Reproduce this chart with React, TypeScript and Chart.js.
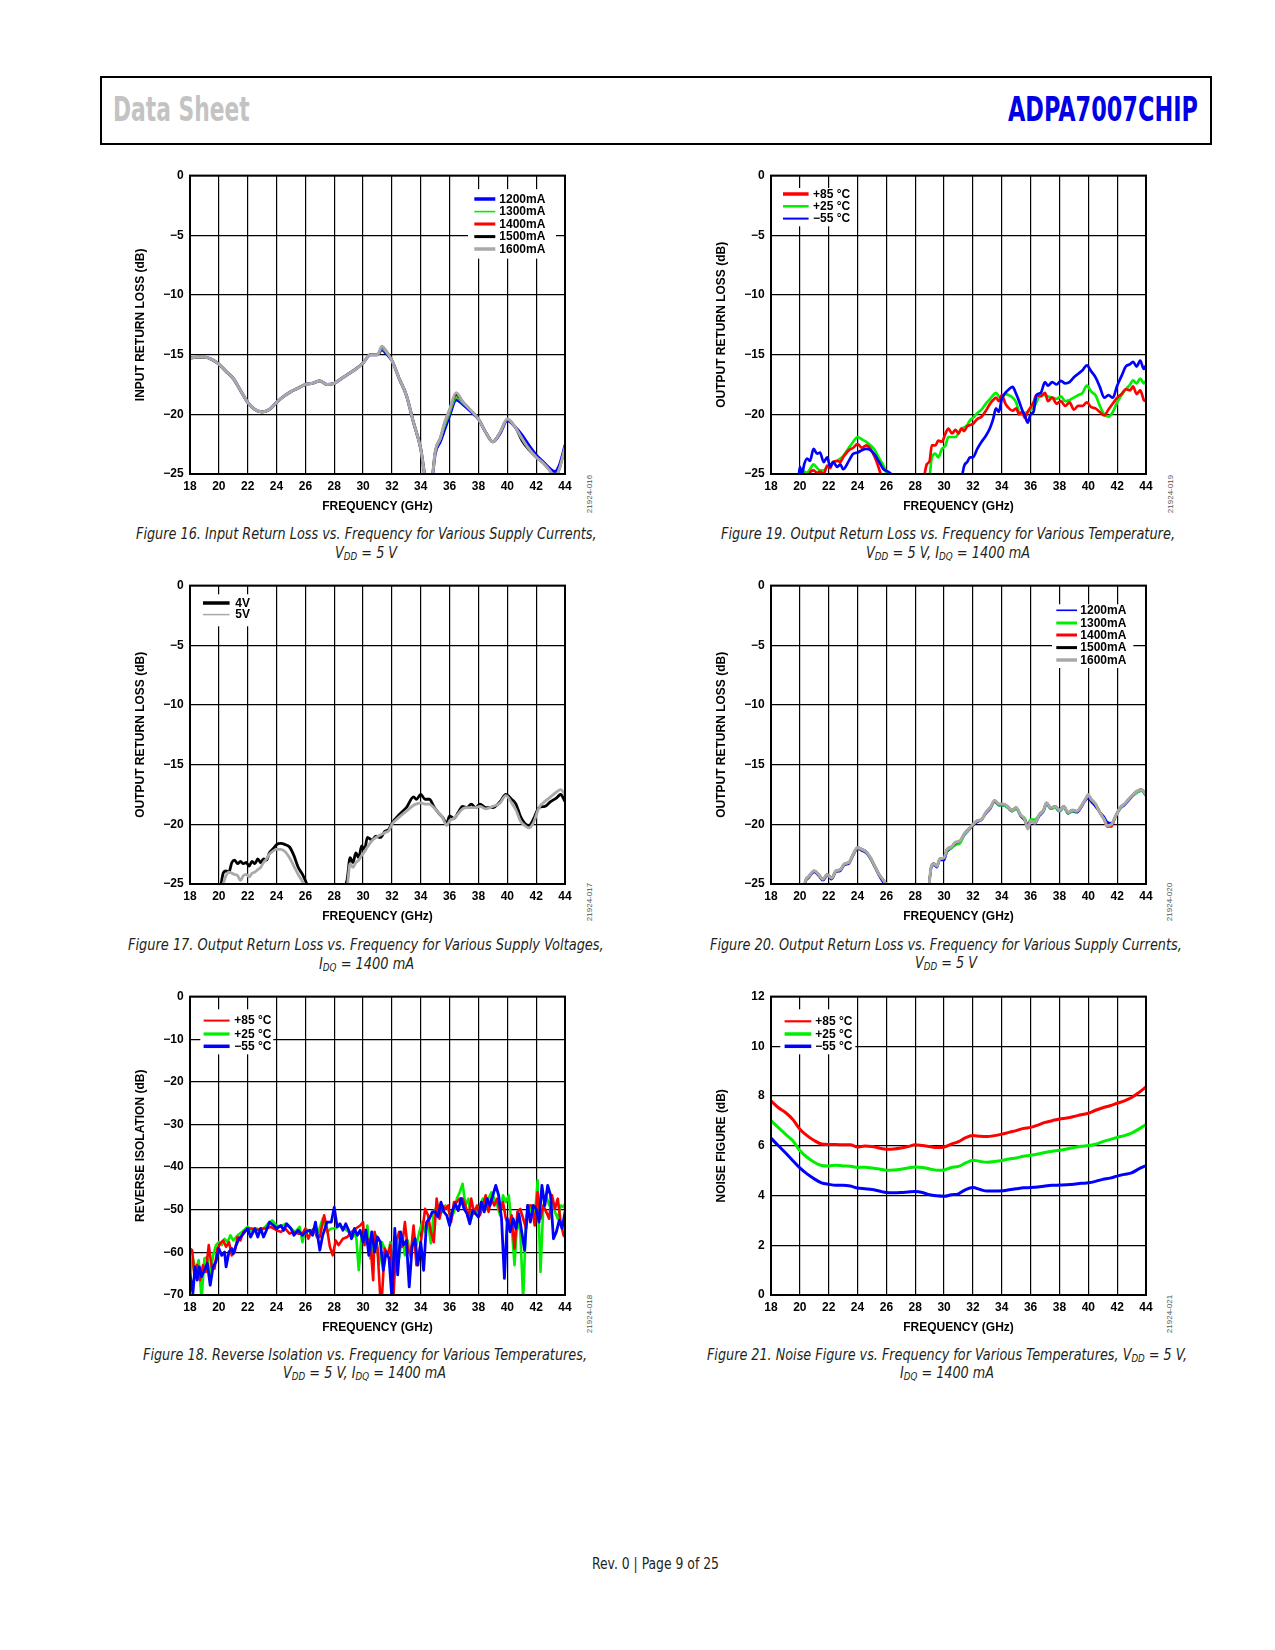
import React, { useEffect, useLayoutEffect, useRef } from "react";
import { Chart, registerables } from "chart.js";
Chart.register(...registerables);

const FONT = "'Liberation Sans', Arial, sans-serif";
const NARROW = "'Liberation Sans Narrow', 'DejaVu Sans Condensed', 'Liberation Sans', sans-serif";
Chart.defaults.font.family = FONT;
Chart.defaults.color = "#000";

// ---------------- DATA ----------------
const X_TICKS_MIN = 18;
const X_TICKS_MAX = 44;
const X_TITLE = "FREQUENCY (GHz)";

// Figure 16 – input return loss vs supply current
const F16_FREQ = [
  18, 18.5, 19, 19.5, 20, 20.5, 21, 21.5, 22, 22.5,
  23, 23.5, 24, 24.5, 25, 25.5, 26, 26.5, 27, 27.5,
  28, 28.5, 29, 29.5, 30, 30.5, 31, 31.3, 31.6, 32,
  32.5, 33, 33.5, 34, 34.3, 34.55, 34.8, 35, 35.35, 35.65,
  36, 36.45, 36.95, 37.5, 38, 38.5, 39, 39.5, 40, 40.5,
  41, 41.5, 42, 42.5, 43, 43.3, 43.6, 44,
];
const F16_1200 = [
  -15.3, -15.2, -15.2, -15.4, -15.8, -16.4, -17.0, -18.0, -19.0, -19.6,
  -19.8, -19.6, -19.0, -18.5, -18.1, -17.8, -17.5, -17.4, -17.2, -17.5,
  -17.4, -17.0, -16.6, -16.2, -15.7, -15.0, -15.0, -14.6, -14.9, -15.5,
  -17.0, -18.4, -20.7, -22.9, -25.3, -26.5, -25.3, -23.3, -22.3, -21.3,
  -20.1, -18.8, -19.2, -19.8, -20.4, -21.5, -22.3, -21.6, -20.5, -21.0,
  -21.7, -22.6, -23.4, -24.0, -24.6, -24.8, -24.3, -22.6,
];
const F16_1300 = [
  -15.3, -15.2, -15.2, -15.4, -15.8, -16.4, -17.0, -18.0, -19.0, -19.6,
  -19.8, -19.6, -19.0, -18.5, -18.1, -17.8, -17.5, -17.4, -17.2, -17.5,
  -17.4, -17.0, -16.6, -16.2, -15.7, -15.0, -15.0, -14.5, -14.8, -15.5,
  -17.0, -18.4, -20.7, -22.9, -25.3, -26.5, -25.3, -23.2, -22.1, -21.0,
  -19.9, -18.6, -19.1, -19.7, -20.4, -21.5, -22.3, -21.5, -20.4, -21.0,
  -22.0, -22.9, -23.6, -24.1, -24.8, -25.3, -24.6, -22.8,
];
const F16_1400 = [
  -15.3, -15.2, -15.2, -15.4, -15.8, -16.4, -17.0, -18.0, -19.0, -19.6,
  -19.8, -19.6, -19.0, -18.5, -18.1, -17.8, -17.5, -17.4, -17.2, -17.5,
  -17.4, -17.0, -16.6, -16.2, -15.7, -15.0, -15.0, -14.4, -14.7, -15.5,
  -17.0, -18.4, -20.7, -22.9, -25.3, -26.5, -25.3, -23.1, -22.0, -20.8,
  -19.7, -18.4, -19.0, -19.7, -20.4, -21.5, -22.3, -21.5, -20.4, -21.0,
  -22.0, -22.9, -23.6, -24.1, -24.8, -25.3, -24.6, -22.8,
];
const F16_1500 = [
  -15.3, -15.2, -15.2, -15.4, -15.8, -16.4, -17.0, -18.0, -19.0, -19.6,
  -19.8, -19.6, -19.0, -18.5, -18.1, -17.8, -17.5, -17.4, -17.2, -17.5,
  -17.4, -17.0, -16.6, -16.2, -15.7, -15.0, -15.0, -14.4, -14.7, -15.5,
  -17.0, -18.4, -20.7, -22.9, -25.3, -26.5, -25.3, -23.1, -22.0, -20.7,
  -19.6, -18.3, -19.0, -19.7, -20.4, -21.5, -22.3, -21.5, -20.4, -21.0,
  -22.2, -23.0, -23.6, -24.1, -24.8, -25.3, -24.6, -22.8,
];
const F16_1600 = [
  -15.3, -15.2, -15.2, -15.4, -15.8, -16.4, -17.0, -18.0, -19.0, -19.6,
  -19.8, -19.6, -19.0, -18.5, -18.1, -17.8, -17.5, -17.4, -17.2, -17.5,
  -17.4, -17.0, -16.6, -16.2, -15.7, -15.0, -15.0, -14.3, -14.7, -15.5,
  -17.0, -18.4, -20.7, -22.9, -25.3, -26.5, -25.3, -23.1, -22.0, -20.7,
  -19.6, -18.2, -19.0, -19.7, -20.4, -21.5, -22.3, -21.5, -20.4, -21.0,
  -22.0, -22.9, -23.6, -24.1, -24.8, -25.3, -24.6, -22.8,
];

// Figure 17 – output return loss vs supply voltage
const F17_FREQ = [
  20.1, 20.3, 20.5, 20.7, 20.9, 21.1, 21.3, 21.5, 21.7, 21.9,
  22.1, 22.3, 22.5, 22.7, 22.9, 23.1, 23.3, 23.5, 23.8, 24.0,
  24.3, 24.6, 24.9, 25.2, 25.5, 25.8, 26.1, 26.3, 27.0, 28.7,
  28.9, 29.1, 29.3, 29.5, 29.7, 29.9, 30.1, 30.3, 30.6, 30.9,
  31.2, 31.5, 31.8, 32.0, 32.5, 33.0, 33.5, 33.7, 34.0, 34.3,
  34.6, 34.9, 35.2, 35.5, 35.8, 36.0, 36.3, 36.6, 36.9, 37.2,
  37.5, 37.8, 38.1, 38.5, 39.0, 39.5, 39.9, 40.3, 40.6, 40.9,
  41.2, 41.5, 41.8, 42.2, 42.6, 43.0, 43.4, 43.7, 44.0,
];
const F17_4V = [
  -25.5, -24.1, -23.9, -24.0, -23.2, -23.0, -23.3, -23.1, -23.3, -23.2,
  -23.5, -23.1, -23.3, -22.9, -23.2, -22.9, -23.0, -22.4, -22.0, -21.7,
  -21.6, -21.7, -21.9, -22.6, -23.6, -24.2, -25.0, -25.6, null, -25.4,
  -24.6, -22.8, -23.2, -22.4, -22.8, -21.8, -22.1, -21.1, -21.3, -21.0,
  -21.1, -20.6, -20.4, -19.9, -19.2, -18.6, -17.7, -17.9, -17.5, -17.9,
  -17.9, -18.5, -19.0, -19.4, -19.9, -19.3, -19.5, -19.0, -18.5, -18.6,
  -18.3, -18.6, -18.3, -18.6, -18.6, -18.1, -17.5, -17.9, -18.3, -19.3,
  -19.9, -20.1, -19.6, -18.6, -18.5, -18.1, -17.8, -17.5, -18.1,
];
const F17_5V = [
  -26.0, -25.0, -24.3, -24.0, -24.1, -24.2, -24.3, -24.7, -24.3, -24.2,
  -24.4, -24.1, -24.0, -23.8, -23.6, -23.2, -22.9, -22.5, -22.2, -22.1,
  -22.1, -22.3, -22.8, -23.5, -24.2, -24.8, -25.5, -26.0, null, -26.0,
  -25.2, -23.3, -23.6, -23.2, -23.0, -22.6, -22.3, -21.9, -21.4, -21.1,
  -20.9, -20.7, -20.5, -20.0, -19.4, -18.9, -18.4, -18.3, -18.2, -18.3,
  -18.3, -18.6, -19.0, -19.4, -20.1, -19.7, -19.5, -19.1, -18.7, -18.6,
  -18.6, -18.6, -18.5, -18.7, -18.5, -18.2, -17.6, -18.2, -18.8, -19.7,
  -20.1, -20.3, -19.9, -18.6, -18.1, -17.7, -17.3, -17.1, -17.5,
];

// Figure 18 – reverse isolation vs temperature
const F18_P85_FREQ = [
  18.0, 18.15, 18.3, 18.5, 18.7, 18.9, 19.1, 19.3, 19.5, 19.7,
  19.9, 20.1, 20.3, 20.5, 20.7, 20.9, 21.1, 21.3, 21.5, 21.7,
  22.0, 22.3, 22.6, 23.0, 23.3, 23.6, 24.0, 24.3, 24.6, 24.9,
  25.2, 25.5, 25.8, 26.0, 26.2, 26.4, 26.6, 26.8, 27.0, 27.3,
  27.5, 27.7, 27.9, 28.1, 28.3, 28.6, 28.9, 29.2, 29.5, 29.8,
  30.0, 30.1, 30.3, 30.5, 30.7, 30.8, 31.0, 31.2, 31.3, 31.5,
  31.7, 31.9, 32.1, 32.3, 32.5, 32.7, 32.9, 33.1, 33.3, 33.5,
  33.7, 33.9, 34.1, 34.3, 34.5, 34.7, 34.9, 35.1, 35.3, 35.5,
  35.7, 35.9, 36.1, 36.3, 36.5, 36.7, 36.9, 37.1, 37.3, 37.5,
  37.7, 37.9, 38.1, 38.3, 38.5, 38.7, 38.9, 39.1, 39.3, 39.5,
  39.7, 39.9, 40.1, 40.3, 40.5, 40.7, 40.9, 41.1, 41.3, 41.5,
  41.7, 41.9, 42.1, 42.3, 42.5, 42.7, 42.9, 43.1, 43.3, 43.5,
  43.7, 43.9, 44.0,
];
const F18_P85 = [
  -59.1, -59.5, -65.3, -63.0, -66.5, -63.0, -64.6, -58.3, -63.4, -63.8,
  -59.1, -57.9, -57.2, -58.7, -57.6, -60.7, -59.9, -56.4, -57.2, -55.2,
  -54.4, -54.4, -54.8, -54.4, -54.4, -54.0, -54.8, -55.2, -54.4, -55.6,
  -55.2, -55.6, -55.6, -54.4, -56.8, -55.2, -54.4, -56.4, -56.4, -51.3,
  -54.4, -58.7, -60.7, -57.2, -58.3, -56.8, -56.4, -55.2, -54.4, -53.7,
  -52.9, -58.3, -56.8, -57.6, -66.5, -55.2, -59.1, -71.0, -71.0, -59.1,
  -60.7, -58.3, -71.0, -57.6, -55.2, -58.7, -52.9, -59.1, -60.7, -53.7,
  -63.0, -59.9, -55.2, -49.8, -51.3, -55.2, -57.6, -47.4, -52.1, -49.0,
  -49.8, -49.0, -52.9, -48.2, -48.2, -47.4, -47.4, -49.0, -52.1, -47.4,
  -50.9, -49.0, -51.3, -49.0, -46.6, -50.5, -47.4, -49.0, -47.4, -50.5,
  -48.2, -52.1, -53.7, -51.3, -59.1, -50.5, -49.8, -52.1, -54.4, -49.0,
  -49.0, -53.7, -45.9, -52.1, -49.0, -50.5, -52.1, -46.6, -49.8, -47.4,
  -52.9, -56.0, -56.4,
];
const F18_P25_FREQ = [
  18.0, 18.2, 18.4, 18.6, 18.8, 19.0, 19.2, 19.4, 19.6, 19.8,
  20.0, 20.2, 20.4, 20.6, 20.8, 21.0, 21.3, 21.6, 22.0, 22.3,
  22.6, 23.0, 23.4, 23.7, 24.0, 24.3, 24.6, 25.0, 25.3, 25.6,
  25.8, 26.0, 26.3, 26.6, 26.9, 27.2, 27.5, 27.8, 28.1, 28.4,
  28.7, 29.0, 29.3, 29.5, 29.7, 29.9, 30.1, 30.3, 30.5, 30.7,
  30.9, 31.1, 31.3, 31.5, 31.7, 31.9, 32.1, 32.3, 32.5, 32.7,
  32.9, 33.1, 33.3, 33.5, 33.7, 33.9, 34.1, 34.3, 34.5, 34.7,
  34.9, 35.1, 35.3, 35.5, 35.7, 35.9, 36.1, 36.3, 36.5, 36.7,
  36.9, 37.1, 37.3, 37.5, 37.7, 37.9, 38.1, 38.3, 38.5, 38.7,
  38.9, 39.1, 39.3, 39.5, 39.7, 39.9, 40.1, 40.3, 40.5, 40.7,
  40.9, 41.1, 41.3, 41.5, 41.7, 41.9, 42.1, 42.3, 42.5, 42.7,
  42.9, 43.1, 43.3, 43.5, 43.7, 43.9, 44.0,
];
const F18_P25 = [
  -65.7, -61.4, -64.2, -61.8, -71.0, -61.4, -61.1, -66.1, -60.7, -58.3,
  -57.6, -58.3, -56.8, -57.6, -56.0, -57.2, -56.0, -55.2, -54.0, -55.2,
  -54.4, -54.8, -53.3, -52.5, -53.7, -54.0, -53.3, -54.4, -55.2, -54.0,
  -57.6, -54.4, -55.2, -54.4, -55.2, -52.1, -55.2, -54.4, -54.4, -53.7,
  -54.4, -55.2, -56.4, -55.2, -64.2, -56.0, -57.6, -53.7, -61.4, -57.6,
  -56.0, -63.0, -57.6, -59.1, -60.7, -57.6, -66.1, -56.4, -61.4, -56.0,
  -60.7, -57.2, -61.4, -55.2, -58.3, -55.2, -52.9, -55.2, -52.9, -57.9,
  -50.5, -49.4, -49.0, -50.5, -49.0, -49.8, -52.1, -50.5, -47.4, -45.9,
  -43.9, -49.0, -47.4, -52.1, -49.8, -50.5, -49.0, -47.4, -49.8, -47.4,
  -45.9, -47.4, -49.0, -51.3, -46.6, -48.2, -46.6, -53.7, -63.0, -52.1,
  -55.2, -71.0, -52.1, -49.0, -50.5, -52.1, -43.1, -64.6, -49.0, -46.6,
  -49.0, -47.4, -50.5, -52.1, -49.0, -49.4, -48.6,
];
const F18_M55_FREQ = [
  18.0, 18.2, 18.35, 18.5, 18.65, 18.8, 19.0, 19.2, 19.4, 19.6,
  19.8, 20.0, 20.2, 20.4, 20.5, 20.7, 20.9, 21.0, 21.2, 21.4,
  21.6, 21.8, 22.0, 22.2, 22.5, 22.7, 22.9, 23.1, 23.3, 23.5,
  23.8, 24.0, 24.3, 24.5, 24.7, 25.0, 25.2, 25.5, 25.8, 26.0,
  26.3, 26.5, 26.7, 27.0, 27.2, 27.5, 27.8, 28.0, 28.2, 28.4,
  28.6, 28.8, 29.0, 29.2, 29.4, 29.6, 29.8, 30.0, 30.2, 30.4,
  30.6, 30.8, 31.0, 31.2, 31.4, 31.6, 31.8, 32.0, 32.2, 32.4,
  32.6, 32.8, 33.0, 33.2, 33.4, 33.6, 33.8, 34.0, 34.2, 34.4,
  34.6, 34.8, 35.0, 35.2, 35.4, 35.6, 35.8, 36.0, 36.2, 36.4,
  36.6, 36.8, 37.0, 37.2, 37.4, 37.6, 37.8, 38.0, 38.2, 38.4,
  38.6, 38.8, 39.0, 39.2, 39.4, 39.6, 39.8, 40.0, 40.2, 40.4,
  40.6, 40.8, 41.0, 41.2, 41.4, 41.6, 41.8, 42.0, 42.2, 42.4,
  42.6, 42.8, 43.0, 43.2, 43.4, 43.6, 43.8, 44.0,
];
const F18_M55 = [
  -65.0, -69.6, -63.4, -66.5, -63.4, -65.7, -64.2, -62.6, -67.7, -63.4,
  -62.2, -59.1, -60.7, -59.9, -63.4, -59.9, -59.1, -60.3, -58.3, -56.8,
  -56.0, -55.2, -54.4, -56.4, -54.4, -56.4, -54.4, -56.4, -54.8, -52.9,
  -53.7, -54.4, -53.7, -54.8, -53.3, -54.4, -56.0, -54.8, -56.0, -55.2,
  -54.8, -56.0, -52.9, -59.5, -56.0, -52.9, -52.9, -49.4, -54.0, -53.3,
  -54.8, -53.3, -54.8, -56.8, -54.4, -56.0, -54.8, -57.6, -54.8, -60.7,
  -55.2, -59.9, -56.4, -57.6, -64.2, -59.9, -61.4, -71.0, -54.4, -65.3,
  -55.2, -58.3, -57.2, -68.1, -58.7, -56.8, -63.0, -57.6, -64.2, -52.9,
  -52.1, -50.5, -50.5, -51.7, -48.2, -50.5, -51.3, -53.7, -50.2, -48.6,
  -50.2, -47.4, -49.8, -50.9, -53.3, -50.2, -50.9, -51.7, -48.2, -50.5,
  -47.4, -49.0, -46.6, -44.3, -46.6, -52.1, -66.1, -52.1, -55.2, -52.1,
  -54.4, -50.9, -55.2, -59.5, -49.0, -52.9, -49.0, -49.8, -52.9, -44.3,
  -49.0, -44.3, -46.6, -56.8, -55.2, -52.5, -54.4, -50.5,
];

// Figure 19 – output return loss vs temperature
const F19_FREQ = [
  19.9, 20.0, 20.15, 20.3, 20.5, 20.7, 20.95, 21.2, 21.4, 21.65,
  21.9, 22.1, 22.3, 22.6, 22.8, 23.0, 23.4, 23.7, 24.0, 24.3,
  24.6, 24.9, 25.2, 25.5, 25.8, 26.1, 26.4, 26.6, 27.5, 28.6,
  28.8, 29.0, 29.15, 29.4, 29.6, 29.85, 30.1, 30.3, 30.55, 30.8,
  31.0, 31.2, 31.4, 31.6, 31.8, 32.0, 32.3, 32.6, 32.9, 33.2,
  33.4, 33.6, 33.8, 34.0, 34.25, 34.5, 34.75, 35.0, 35.2, 35.4,
  35.6, 35.8, 36.0, 36.2, 36.4, 36.7, 37.0, 37.2, 37.5, 37.8,
  38.1, 38.4, 38.7, 39.0, 39.3, 39.6, 39.9, 40.2, 40.5, 40.8,
  41.1, 41.4, 41.7, 42.0, 42.3, 42.6, 42.9, 43.1, 43.35, 43.6,
  43.85, 44.0,
];
const F19_P85 = [
  null, null, null, null, -26.0, -24.9, -24.7, -24.9, -24.8, -25.0,
  -24.3, -24.5, -24.0, -23.9, -24.0, -23.6, -23.0, -22.8, -22.5, -22.8,
  -22.6, -22.9, -23.6, -24.6, -25.8, null, null, null, null, -25.3,
  -24.2, -23.9, -22.6, -22.6, -22.2, -22.3, -21.6, -21.2, -21.6, -21.3,
  -21.6, -21.2, -21.4, -21.0, -20.9, -20.8, -20.4, -20.2, -19.7, -19.1,
  -18.8, -18.6, -18.9, -18.4, -19.1, -19.5, -19.7, -19.5, -20.0, -19.8,
  -20.3, -19.8, -19.4, -19.0, -18.4, -18.5, -18.2, -18.9, -18.6, -19.1,
  -18.9, -19.3, -19.0, -19.6, -19.3, -19.3, -19.0, -19.4, -19.5, -19.8,
  -20.1, -19.6, -19.1, -18.6, -18.3, -17.9, -18.0, -17.65, -18.3, -18.0,
  -18.8, -18.9,
];
const F19_P25 = [
  null, -26.0, -25.2, -24.8, -24.9, -24.6, -24.2, -24.5, -24.7, -24.7,
  -24.4, -24.3, -24.0, -23.9, -23.7, -23.5, -22.8, -22.3, -21.9, -22.1,
  -22.3, -22.6, -23.0, -23.7, -24.3, -25.3, null, null, null, null,
  -26.0, -25.2, -23.6, -23.3, -23.6, -22.9, -22.6, -21.9, -21.9, -21.9,
  -21.6, -21.2, -21.1, -20.9, -20.5, -20.3, -19.9, -19.6, -19.1, -18.7,
  -18.4, -18.2, -18.5, -18.6, -18.3, -18.4, -18.6, -19.0, -19.8, -20.0,
  -19.9, -19.8, -19.6, -19.4, -19.0, -18.3, -18.4, -18.5, -18.6, -18.7,
  -18.5, -18.9, -18.8, -18.6, -18.4, -18.2, -17.6, -18.1, -18.4, -19.3,
  -20.0, -20.2, -19.8, -19.0, -18.4, -17.9, -17.5, -17.15, -17.4, -17.0,
  -17.4, -17.2,
];
const F19_M55 = [
  -25.5, -24.4, -25.0, -24.2, -23.7, -23.9, -22.9, -23.3, -23.2, -24.0,
  -23.6, -24.4, -24.0, -24.4, -24.2, -24.6, -23.9, -23.3, -23.2, -23.0,
  -22.9, -23.0, -23.4, -24.0, -24.6, -24.8, -25.1, -25.6, null, null,
  null, null, null, null, null, null, null, null, null, null,
  null, -25.5, -24.3, -24.0, -23.6, -23.6, -22.9, -22.3, -21.8, -21.1,
  -20.4, -19.5, -19.8, -18.7, -18.2, -17.9, -17.7, -18.3, -18.9, -19.6,
  -20.1, -20.7, -20.0, -19.8, -18.4, -18.2, -17.3, -17.6, -17.3, -17.5,
  -17.2, -17.4, -17.3, -16.9, -16.6, -16.3, -15.9, -16.4, -16.9, -17.7,
  -18.6, -18.4, -18.6, -17.6, -16.8, -16.0, -15.8, -15.6, -16.0, -15.5,
  -16.2, -15.9,
];

// Figure 20 – output return loss vs supply current
const F20_FREQ = [
  20.2, 20.4, 20.6, 21.0, 21.3, 21.6, 21.9, 22.2, 22.5, 22.8,
  23.1, 23.4, 23.7, 24.0, 24.3, 24.6, 24.9, 25.2, 25.5, 25.8,
  26.0, 26.2, 27.5, 28.9, 29.1, 29.3, 29.5, 29.7, 30.0, 30.2,
  30.5, 30.8, 31.1, 31.4, 31.7, 32.0, 32.3, 32.6, 32.9, 33.2,
  33.5, 33.8, 34.1, 34.4, 34.7, 35.0, 35.3, 35.6, 35.8, 36.0,
  36.3, 36.6, 36.9, 37.1, 37.4, 37.7, 38.0, 38.3, 38.6, 38.9,
  39.2, 39.5, 39.8, 40.0, 40.2, 40.5, 40.8, 41.1, 41.3, 41.6,
  41.9, 42.2, 42.5, 42.8, 43.1, 43.4, 43.7, 44.0,
];
const F20_1200 = [
  -26.0, -24.8, -24.5, -24.0, -24.3, -24.7, -24.3, -24.6, -24.0, -23.9,
  -23.4, -23.3, -22.6, -22.05, -22.2, -22.4, -22.9, -23.6, -24.3, -24.9,
  -25.2, -26.0, null, -26.0, -23.7, -23.4, -23.6, -23.0, -23.0, -22.3,
  -22.0, -21.7, -21.5, -20.9, -20.5, -20.1, -19.8, -19.6, -19.1, -18.7,
  -18.1, -18.4, -18.4, -18.6, -18.9, -18.7, -19.3, -19.7, -20.3, -19.7,
  -19.9, -19.3, -18.9, -18.3, -18.7, -18.6, -18.9, -18.6, -19.1, -18.9,
  -19.0, -18.6, -18.0, -17.8, -18.1, -18.5, -19.0, -19.4, -19.8, -19.9,
  -19.3, -18.7, -18.4, -18.0, -17.6, -17.3, -17.2, -17.6,
];
const F20_1300 = [
  -26.0, -24.7, -24.4, -23.9, -24.2, -24.6, -24.2, -24.5, -23.9, -23.8,
  -23.3, -23.2, -22.5, -22.0, -22.1, -22.3, -22.8, -23.5, -24.2, -24.7,
  -25.1, -26.0, null, -26.0, -23.6, -23.3, -23.5, -22.9, -22.8, -22.2,
  -22.0, -21.7, -21.6, -20.9, -20.5, -20.0, -19.7, -19.6, -19.0, -18.6,
  -18.1, -18.4, -18.4, -18.6, -18.9, -18.7, -19.2, -19.5, -20.0, -19.6,
  -19.6, -19.2, -18.9, -18.3, -18.7, -18.6, -18.9, -18.6, -19.1, -18.9,
  -18.9, -18.5, -17.9, -17.6, -17.9, -18.3, -19.0, -19.6, -20.0, -20.0,
  -19.3, -18.7, -18.3, -17.9, -17.6, -17.3, -17.2, -17.6,
];
const F20_1400 = [
  -26.0, -24.7, -24.4, -23.9, -24.2, -24.6, -24.2, -24.5, -23.9, -23.8,
  -23.3, -23.2, -22.5, -21.95, -22.1, -22.3, -22.8, -23.5, -24.2, -24.7,
  -25.1, -26.0, null, -26.0, -23.6, -23.3, -23.5, -22.9, -22.8, -22.1,
  -21.9, -21.6, -21.4, -20.8, -20.4, -20.0, -19.7, -19.6, -19.0, -18.6,
  -18.0, -18.3, -18.3, -18.5, -18.8, -18.6, -19.2, -19.6, -20.3, -19.7,
  -19.9, -19.2, -18.8, -18.2, -18.6, -18.5, -18.8, -18.5, -19.0, -18.8,
  -18.9, -18.5, -17.9, -17.7, -17.9, -18.3, -19.0, -19.6, -20.2, -20.2,
  -19.3, -18.6, -18.3, -17.9, -17.5, -17.2, -17.1, -17.5,
];
const F20_1500 = [
  -26.0, -24.7, -24.4, -23.9, -24.2, -24.6, -24.2, -24.5, -23.9, -23.8,
  -23.3, -23.2, -22.5, -21.95, -22.1, -22.3, -22.8, -23.5, -24.2, -24.7,
  -25.1, -26.0, null, -26.0, -23.6, -23.3, -23.5, -22.9, -22.8, -22.1,
  -21.9, -21.5, -21.4, -20.8, -20.4, -20.0, -19.7, -19.6, -19.0, -18.6,
  -18.1, -18.3, -18.3, -18.5, -18.8, -18.6, -19.2, -19.6, -20.1, -19.7,
  -19.9, -19.2, -18.8, -18.2, -18.6, -18.5, -18.8, -18.5, -19.0, -18.8,
  -18.9, -18.5, -17.9, -17.6, -17.9, -18.3, -19.0, -19.6, -20.0, -20.0,
  -19.3, -18.6, -18.3, -17.9, -17.5, -17.2, -17.1, -17.5,
];
const F20_1600 = [
  -26.0, -24.7, -24.4, -23.9, -24.2, -24.6, -24.2, -24.5, -23.9, -23.8,
  -23.3, -23.2, -22.5, -21.95, -22.1, -22.3, -22.8, -23.5, -24.2, -24.7,
  -25.1, -26.0, null, -26.0, -23.6, -23.3, -23.5, -22.9, -22.8, -22.1,
  -21.9, -21.5, -21.4, -20.8, -20.4, -20.0, -19.7, -19.6, -19.0, -18.6,
  -18.0, -18.3, -18.3, -18.5, -18.8, -18.6, -19.2, -19.6, -20.4, -19.7,
  -19.9, -19.2, -18.8, -18.2, -18.6, -18.5, -18.8, -18.5, -19.0, -18.8,
  -18.9, -18.5, -17.9, -17.5, -17.9, -18.3, -19.0, -19.6, -20.1, -20.0,
  -19.3, -18.6, -18.3, -17.9, -17.5, -17.2, -17.1, -17.5,
];

// Figure 21 – noise figure vs temperature
const F21_FREQ = [
  18, 18.5, 19, 19.5, 20, 20.5, 21, 21.5, 22, 22.5,
  23, 23.5, 24, 24.5, 25, 25.5, 26, 26.5, 27, 27.5,
  28, 28.5, 29, 29.5, 30, 30.5, 31, 31.5, 32, 32.5,
  33, 33.5, 34, 34.5, 35, 35.5, 36, 36.5, 37, 37.5,
  38, 38.5, 39, 39.5, 40, 40.5, 41, 41.5, 42, 42.5,
  43, 43.5, 44,
];
const F21_P85 = [
  7.81, 7.54, 7.34, 7.07, 6.67, 6.41, 6.21, 6.07, 6.05, 6.05,
  6.04, 6.04, 5.95, 5.99, 5.97, 5.91, 5.86, 5.87, 5.91, 5.97,
  6.04, 6.01, 5.97, 5.93, 5.95, 6.07, 6.17, 6.33, 6.41, 6.38,
  6.37, 6.41, 6.47, 6.54, 6.61, 6.70, 6.74, 6.83, 6.94, 7.01,
  7.08, 7.12, 7.18, 7.25, 7.31, 7.43, 7.53, 7.61, 7.71, 7.81,
  7.94, 8.14, 8.37,
];
const F21_P25 = [
  7.01, 6.74, 6.47, 6.21, 5.81, 5.54, 5.34, 5.21, 5.19, 5.22,
  5.19, 5.18, 5.13, 5.14, 5.11, 5.07, 5.02, 5.03, 5.06, 5.11,
  5.15, 5.13, 5.07, 5.02, 5.03, 5.13, 5.17, 5.31, 5.42, 5.37,
  5.34, 5.37, 5.41, 5.47, 5.51, 5.58, 5.62, 5.67, 5.73, 5.78,
  5.82, 5.87, 5.93, 5.98, 6.01, 6.06, 6.17, 6.25, 6.34, 6.41,
  6.51, 6.67, 6.86,
];
const F21_M55 = [
  6.31, 6.01, 5.72, 5.41, 5.11, 4.87, 4.67, 4.51, 4.45, 4.41,
  4.41, 4.38, 4.30, 4.27, 4.24, 4.18, 4.12, 4.11, 4.12, 4.14,
  4.16, 4.12, 4.03, 3.99, 3.97, 4.03, 4.07, 4.24, 4.32, 4.24,
  4.18, 4.18, 4.19, 4.23, 4.27, 4.31, 4.32, 4.34, 4.38, 4.41,
  4.42, 4.43, 4.45, 4.49, 4.51, 4.57, 4.65, 4.70, 4.78, 4.85,
  4.91, 5.07, 5.20,
];

const CURRENT_LABELS = ["1200mA", "1300mA", "1400mA", "1500mA", "1600mA"];
const VOLTAGE_LABELS = ["4V", "5V"];
const TEMP_LABELS = ["+85 °C", "+25 °C", "−55 °C"];

// ---------------- STYLE ----------------
const RED = "#ff0000";
const GREEN = "#00ee00";
const BLUE = "#0000ff";
const BLACK = "#000000";
const GRAY = "#a9a9a9";

const Y_AXIS_W = 71;
const PAD_T = 12;
const PAD_R = 16;
const X_AXIS_H = 45;
const AREA_W = 375;
const AREA_H = 300;

type Series = {
  label: string;
  xs: number[];
  ys: (number | null)[];
  color: string;
  width: number;
  legendWidth: number;
  z: number;
};
type LegendSpec = { box: number[]; line: number[]; textX: number; rows: number[] };
type PlotSpec = {
  code: string;
  areaLeft: number;
  areaTop: number;
  yMin: number;
  yMax: number;
  yStep: number;
  yTitle: string;
  smooth: boolean;
  series: Series[];
  legend: LegendSpec;
};

const fmt = (v: number | string) => {
  const n = Number(v);
  return n < 0 ? "\u2212" + Math.abs(n) : String(n);
};

const PLOTS: PlotSpec[] = [
  {
    code: "21924-016",
    areaLeft: 190,
    areaTop: 174,
    yMin: -25, yMax: 0, yStep: 5,
    yTitle: "INPUT RETURN LOSS (dB)",
    smooth: true,
    series: [
      { label: CURRENT_LABELS[0], xs: F16_FREQ, ys: F16_1200, color: BLUE, width: 3, legendWidth: 3.5, z: 4 },
      { label: CURRENT_LABELS[1], xs: F16_FREQ, ys: F16_1300, color: GREEN, width: 2.2, legendWidth: 1.6, z: 3 },
      { label: CURRENT_LABELS[2], xs: F16_FREQ, ys: F16_1400, color: RED, width: 2.2, legendWidth: 3, z: 2 },
      { label: CURRENT_LABELS[3], xs: F16_FREQ, ys: F16_1500, color: BLACK, width: 2.2, legendWidth: 3, z: 1 },
      { label: CURRENT_LABELS[4], xs: F16_FREQ, ys: F16_1600, color: GRAY, width: 3, legendWidth: 3.5, z: 0 },
    ],
    legend: { box: [278, 13.5, 366, 83], line: [284.3, 305.3], textX: 309.3, rows: [23.4, 36, 48.4, 61, 73.4] },
  },
  {
    code: "21924-017",
    areaLeft: 190,
    areaTop: 584,
    yMin: -25, yMax: 0, yStep: 5,
    yTitle: "OUTPUT RETURN LOSS (dB)",
    smooth: true,
    series: [
      { label: VOLTAGE_LABELS[0], xs: F17_FREQ, ys: F17_4V, color: BLACK, width: 2.8, legendWidth: 3.5, z: 1 },
      { label: VOLTAGE_LABELS[1], xs: F17_FREQ, ys: F17_5V, color: GRAY, width: 2.8, legendWidth: 1.5, z: 0 },
    ],
    legend: { box: [10.3, 8.7, 62, 40.7], line: [13, 39.6], textX: 45.3, rows: [17.4, 29] },
  },
  {
    code: "21924-018",
    areaLeft: 190,
    areaTop: 995,
    yMin: -70, yMax: 0, yStep: 10,
    yTitle: "REVERSE ISOLATION (dB)",
    smooth: false,
    series: [
      { label: TEMP_LABELS[0], xs: F18_P85_FREQ, ys: F18_P85, color: RED, width: 2.6, legendWidth: 2, z: 1 },
      { label: TEMP_LABELS[1], xs: F18_P25_FREQ, ys: F18_P25, color: GREEN, width: 2.6, legendWidth: 3.2, z: 2 },
      { label: TEMP_LABELS[2], xs: F18_M55_FREQ, ys: F18_M55, color: BLUE, width: 2.8, legendWidth: 3.5, z: 0 },
    ],
    legend: { box: [10.3, 12.7, 83.3, 57.7], line: [13.6, 39.6], textX: 44.3, rows: [24, 37.4, 49.7] },
  },
  {
    code: "21924-019",
    areaLeft: 771,
    areaTop: 174,
    yMin: -25, yMax: 0, yStep: 5,
    yTitle: "OUTPUT RETURN LOSS (dB)",
    smooth: true,
    series: [
      { label: TEMP_LABELS[0], xs: F19_FREQ, ys: F19_P85, color: RED, width: 2.7, legendWidth: 3.5, z: 1 },
      { label: TEMP_LABELS[1], xs: F19_FREQ, ys: F19_P25, color: GREEN, width: 2.7, legendWidth: 2.5, z: 2 },
      { label: TEMP_LABELS[2], xs: F19_FREQ, ys: F19_M55, color: BLUE, width: 2.7, legendWidth: 2, z: 0 },
    ],
    legend: { box: [9.3, 12.4, 79.3, 50.7], line: [12, 37.6], textX: 42, rows: [18.4, 30.7, 43] },
  },
  {
    code: "21924-020",
    areaLeft: 771,
    areaTop: 584,
    yMin: -25, yMax: 0, yStep: 5,
    yTitle: "OUTPUT RETURN LOSS (dB)",
    smooth: true,
    series: [
      { label: CURRENT_LABELS[0], xs: F20_FREQ, ys: F20_1200, color: BLUE, width: 2.4, legendWidth: 1.6, z: 4 },
      { label: CURRENT_LABELS[1], xs: F20_FREQ, ys: F20_1300, color: GREEN, width: 2.4, legendWidth: 3, z: 3 },
      { label: CURRENT_LABELS[2], xs: F20_FREQ, ys: F20_1400, color: RED, width: 2.2, legendWidth: 3, z: 2 },
      { label: CURRENT_LABELS[3], xs: F20_FREQ, ys: F20_1500, color: BLACK, width: 2.2, legendWidth: 3, z: 1 },
      { label: CURRENT_LABELS[4], xs: F20_FREQ, ys: F20_1600, color: GRAY, width: 3, legendWidth: 3.5, z: 0 },
    ],
    legend: { box: [281, 18.7, 362.3, 82.4], line: [285.3, 306], textX: 309.3, rows: [24.7, 37.4, 49.4, 62, 74.4] },
  },
  {
    code: "21924-021",
    areaLeft: 771,
    areaTop: 995,
    yMin: 0, yMax: 12, yStep: 2,
    yTitle: "NOISE FIGURE (dB)",
    smooth: true,
    series: [
      { label: TEMP_LABELS[0], xs: F21_FREQ, ys: F21_P85, color: RED, width: 3, legendWidth: 2.2, z: 0 },
      { label: TEMP_LABELS[1], xs: F21_FREQ, ys: F21_P25, color: GREEN, width: 3, legendWidth: 3.5, z: 1 },
      { label: TEMP_LABELS[2], xs: F21_FREQ, ys: F21_M55, color: BLUE, width: 3, legendWidth: 3.5, z: 2 },
    ],
    legend: { box: [9.3, 12.7, 84.3, 57.7], line: [13.6, 40.3], textX: 44.3, rows: [24.7, 37.4, 49.7] },
  },
];

function pagePlugin(spec: PlotSpec) {
  return {
    id: "page" + spec.code.replace(/\W/g, ""),
    afterDatasetsDraw(chart: any) {
      const { ctx, chartArea: a } = chart;
      ctx.save();
      ctx.strokeStyle = "#000";
      ctx.lineWidth = 2;
      ctx.strokeRect(a.left, a.top, a.right - a.left, a.bottom - a.top);
      const L = spec.legend;
      ctx.fillStyle = "#fff";
      ctx.fillRect(a.left + L.box[0], a.top + L.box[1], L.box[2] - L.box[0], L.box[3] - L.box[1]);
      ctx.font = `bold 12px ${FONT}`;
      ctx.textBaseline = "middle";
      ctx.textAlign = "left";
      spec.series.forEach((s, k) => {
        const y = a.top + L.rows[k];
        ctx.strokeStyle = s.color;
        ctx.lineWidth = s.legendWidth;
        ctx.lineCap = "butt";
        ctx.beginPath();
        ctx.moveTo(a.left + L.line[0], y);
        ctx.lineTo(a.left + L.line[1], y);
        ctx.stroke();
        ctx.fillStyle = "#000";
        ctx.fillText(s.label, a.left + L.textX, y + 0.5);
      });
      ctx.restore();
    },
  };
}

function buildConfig(spec: PlotSpec): any {
  const datasets = spec.series.map((s) => ({
    label: s.label,
    data: s.xs.map((x, i) => ({ x, y: s.ys[i] })),
    borderColor: s.color,
    backgroundColor: s.color,
    borderWidth: s.width,
    pointRadius: 0,
    pointHoverRadius: 0,
    fill: false,
    spanGaps: false,
    clip: 0,
    order: s.z,
    borderJoinStyle: "round",
    borderCapStyle: "round",
    cubicInterpolationMode: spec.smooth ? "monotone" : "default",
    tension: 0,
  }));
  const tickFont = { size: 12, weight: "bold" as const, family: FONT };
  return {
    type: "line",
    data: { datasets },
    options: {
      responsive: false,
      maintainAspectRatio: false,
      animation: false,
      events: [],
      layout: { padding: { left: 0, top: PAD_T, right: PAD_R, bottom: 0 } },
      plugins: { legend: { display: false }, tooltip: { enabled: false }, title: { display: false } },
      scales: {
        x: {
          type: "linear",
          min: X_TICKS_MIN,
          max: X_TICKS_MAX,
          afterFit: (s: any) => { s.height = X_AXIS_H; },
          ticks: { stepSize: 2, autoSkip: false, maxRotation: 0, minRotation: 0, padding: 5, font: tickFont, color: "#000", callback: fmt },
          grid: { color: "#000", lineWidth: 1.2, drawTicks: false },
          border: { display: false },
          title: { display: true, text: X_TITLE, font: tickFont, color: "#000", padding: { top: 0, bottom: 5.1 } },
        },
        y: {
          type: "linear",
          min: spec.yMin,
          max: spec.yMax,
          afterFit: (s: any) => { s.width = Y_AXIS_W; },
          ticks: { stepSize: spec.yStep, autoSkip: false, padding: 6.4, font: tickFont, color: "#000", callback: fmt },
          grid: { color: "#000", lineWidth: 1.2, drawTicks: false },
          border: { display: false },
          title: { display: true, text: spec.yTitle, font: tickFont, color: "#000", padding: { top: 14.5, bottom: 0 } },
        },
      },
    },
    plugins: [pagePlugin(spec)],
  };
}

function Plot({ spec }: { spec: PlotSpec }) {
  const ref = useRef<HTMLCanvasElement>(null);
  const W = Y_AXIS_W + AREA_W + PAD_R;
  const H = PAD_T + AREA_H + X_AXIS_H;
  useEffect(() => {
    const chart = new Chart(ref.current as HTMLCanvasElement, buildConfig(spec));
    return () => chart.destroy();
  }, [spec]);
  return (
    <canvas
      ref={ref}
      width={W}
      height={H}
      style={{ position: "absolute", left: spec.areaLeft - Y_AXIS_W, top: spec.areaTop - PAD_T, width: W, height: H }}
    />
  );
}

// ---------------- TEXT ----------------
function FitLine({ left, width, cy, size, style, children }: any) {
  const ref = useRef<HTMLSpanElement>(null);
  useLayoutEffect(() => {
    const el = ref.current as HTMLSpanElement;
    const fit = () => {
      el.style.transform = "none";
      const w = el.getBoundingClientRect().width;
      if (w > 0) el.style.transform = `scaleX(${width / w})`;
    };
    fit();
    (document as any).fonts?.ready?.then(fit);
  }, [width]);
  return (
    <span
      ref={ref}
      style={{
        position: "absolute", left, top: cy - size / 2, fontSize: size, lineHeight: `${size}px`,
        whiteSpace: "nowrap", transformOrigin: "0 0", display: "inline-block", ...style,
      }}
    >
      {children}
    </span>
  );
}

const CAP_SIZE = 16.5;
const capStyle: React.CSSProperties = {
  position: "absolute", fontSize: CAP_SIZE, lineHeight: `${CAP_SIZE}px`, fontStyle: "italic",
  fontFamily: NARROW, fontStretch: "condensed", color: "#231f20", whiteSpace: "nowrap",
  transformOrigin: "0 0", display: "inline-block",
};
const Sub = ({ children }: any) => (
  <span style={{ fontSize: "0.68em", position: "relative", top: "0.22em" }}>{children}</span>
);

function Caption({ cx, w1, y1, y2, line1, line2 }: any) {
  const r1 = useRef<HTMLSpanElement>(null);
  const r2 = useRef<HTMLSpanElement>(null);
  useLayoutEffect(() => {
    const fit = () => {
      const a = r1.current as HTMLSpanElement;
      const b = r2.current as HTMLSpanElement;
      a.style.transform = "none";
      b.style.transform = "none";
      const n1 = a.getBoundingClientRect().width;
      const n2 = b.getBoundingClientRect().width;
      if (!n1) return;
      const s = w1 / n1;
      a.style.left = `${cx - w1 / 2}px`;
      a.style.transform = `scaleX(${s})`;
      b.style.left = `${cx - (n2 * s) / 2}px`;
      b.style.transform = `scaleX(${s})`;
    };
    fit();
    (document as any).fonts?.ready?.then(fit);
  }, []);
  return (
    <>
      <span ref={r1} style={{ ...capStyle, top: y1 - CAP_SIZE / 2, left: cx - w1 / 2 }}>{line1}</span>
      <span ref={r2} style={{ ...capStyle, top: y2 - CAP_SIZE / 2, left: cx }}>{line2}</span>
    </>
  );
}

function Code({ cx, cy, text }: any) {
  return (
    <div
      style={{
        position: "absolute", left: cx, top: cy, transform: "translate(-50%, -50%) rotate(-90deg)",
        font: `8px ${FONT}`, color: "#555", whiteSpace: "nowrap", lineHeight: "8px",
      }}
    >
      {text}
    </div>
  );
}

const VDD = <>V<Sub>DD</Sub> = 5 V</>;
const IDQ = <>I<Sub>DQ</Sub> = 1400 mA</>;

export default function App() {
  return (
    <div style={{ position: "absolute", left: 0, top: 0, width: 1275, height: 1650, background: "#fff", overflow: "hidden" }}>
      <div style={{ position: "absolute", left: 100, top: 76, width: 1112, height: 69, border: "2px solid #000", boxSizing: "border-box" }} />
      <FitLine left={113.3} width={136.7} cy={110} size={33.5} style={{ fontFamily: NARROW, fontWeight: "bold", fontStretch: "condensed", color: "#c3c3c3" }}>
        Data Sheet
      </FitLine>
      <FitLine left={1008.3} width={190} cy={110} size={33.5} style={{ fontFamily: NARROW, fontWeight: "bold", fontStretch: "condensed", color: "#0000e6" }}>
        ADPA7007CHIP
      </FitLine>

      {PLOTS.map((p) => (
        <Plot key={p.code} spec={p} />
      ))}

      <Code cx={590} cy={494} text="21924-016" />
      <Code cx={590} cy={902} text="21924-017" />
      <Code cx={590} cy={1314} text="21924-018" />
      <Code cx={1171} cy={494} text="21924-019" />
      <Code cx={1170} cy={902} text="21924-020" />
      <Code cx={1170} cy={1314} text="21924-021" />

      <Caption cx={366.3} w1={460.6} y1={534} y2={553}
        line1={<>Figure 16. Input Return Loss vs. Frequency for Various Supply Currents,</>} line2={VDD} />
      <Caption cx={366.2} w1={475.7} y1={945} y2={964}
        line1={<>Figure 17. Output Return Loss vs. Frequency for Various Supply Voltages,</>} line2={IDQ} />
      <Caption cx={364.7} w1={444} y1={1355} y2={1373}
        line1={<>Figure 18. Reverse Isolation vs. Frequency for Various Temperatures,</>} line2={<>{VDD}, {IDQ}</>} />
      <Caption cx={948} w1={454} y1={534} y2={553}
        line1={<>Figure 19. Output Return Loss vs. Frequency for Various Temperature,</>} line2={<>{VDD}, {IDQ}</>} />
      <Caption cx={945.8} w1={471.7} y1={945} y2={963}
        line1={<>Figure 20. Output Return Loss vs. Frequency for Various Supply Currents,</>} line2={VDD} />
      <Caption cx={946.7} w1={480} y1={1355} y2={1373}
        line1={<>Figure 21. Noise Figure vs. Frequency for Various Temperatures, {VDD},</>} line2={IDQ} />

      <FitLine left={592} width={127} cy={1565} size={15.5} style={{ fontFamily: NARROW, fontStretch: "condensed", color: "#231f20" }}>
        Rev. 0 | Page 9 of 25
      </FitLine>
    </div>
  );
}
